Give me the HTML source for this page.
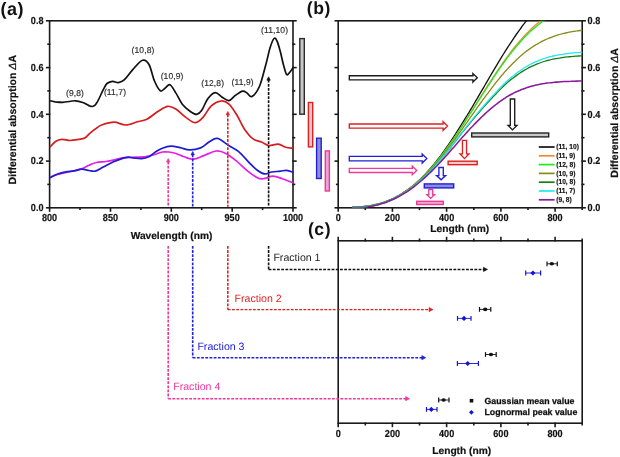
<!DOCTYPE html>
<html><head><meta charset="utf-8"><style>
html,body{margin:0;padding:0;background:#fff;width:620px;height:457px;overflow:hidden}
svg{display:block;will-change:transform}
text{text-rendering:geometricPrecision}
</style></head><body>
<svg width="620" height="457" viewBox="0 0 620 457">
<rect width="620" height="457" fill="#fff"/>
<g stroke="#1a1a1a" stroke-width="1.6" fill="none" stroke-linecap="square">
<rect x="49.6" y="20.8" width="243.4" height="187.0"/>
<line x1="46.7" y1="207.8" x2="49.6" y2="207.8"/>
<line x1="293.0" y1="207.8" x2="295.9" y2="207.8"/>
<line x1="48.1" y1="184.4" x2="49.6" y2="184.4"/>
<line x1="293.0" y1="184.4" x2="294.5" y2="184.4"/>
<line x1="46.7" y1="161.1" x2="49.6" y2="161.1"/>
<line x1="293.0" y1="161.1" x2="295.9" y2="161.1"/>
<line x1="48.1" y1="137.7" x2="49.6" y2="137.7"/>
<line x1="293.0" y1="137.7" x2="294.5" y2="137.7"/>
<line x1="46.7" y1="114.3" x2="49.6" y2="114.3"/>
<line x1="293.0" y1="114.3" x2="295.9" y2="114.3"/>
<line x1="48.1" y1="90.9" x2="49.6" y2="90.9"/>
<line x1="293.0" y1="90.9" x2="294.5" y2="90.9"/>
<line x1="46.7" y1="67.6" x2="49.6" y2="67.6"/>
<line x1="293.0" y1="67.6" x2="295.9" y2="67.6"/>
<line x1="48.1" y1="44.2" x2="49.6" y2="44.2"/>
<line x1="293.0" y1="44.2" x2="294.5" y2="44.2"/>
<line x1="46.7" y1="20.8" x2="49.6" y2="20.8"/>
<line x1="293.0" y1="20.8" x2="295.9" y2="20.8"/>
<line x1="49.6" y1="207.8" x2="49.6" y2="211.0"/>
<line x1="80.0" y1="207.8" x2="80.0" y2="209.3"/>
<line x1="110.5" y1="207.8" x2="110.5" y2="211.0"/>
<line x1="140.9" y1="207.8" x2="140.9" y2="209.3"/>
<line x1="171.3" y1="207.8" x2="171.3" y2="211.0"/>
<line x1="201.7" y1="207.8" x2="201.7" y2="209.3"/>
<line x1="232.2" y1="207.8" x2="232.2" y2="211.0"/>
<line x1="262.6" y1="207.8" x2="262.6" y2="209.3"/>
<line x1="293.0" y1="207.8" x2="293.0" y2="211.0"/>
</g>
<g stroke="#1a1a1a" stroke-width="1.6" fill="none" stroke-linecap="square">
<rect x="338.2" y="20.8" width="244.00000000000006" height="187.0"/>
<line x1="335.3" y1="207.8" x2="338.2" y2="207.8"/>
<line x1="582.2" y1="207.8" x2="585.1" y2="207.8"/>
<line x1="336.7" y1="184.4" x2="338.2" y2="184.4"/>
<line x1="582.2" y1="184.4" x2="583.7" y2="184.4"/>
<line x1="335.3" y1="161.1" x2="338.2" y2="161.1"/>
<line x1="582.2" y1="161.1" x2="585.1" y2="161.1"/>
<line x1="336.7" y1="137.7" x2="338.2" y2="137.7"/>
<line x1="582.2" y1="137.7" x2="583.7" y2="137.7"/>
<line x1="335.3" y1="114.3" x2="338.2" y2="114.3"/>
<line x1="582.2" y1="114.3" x2="585.1" y2="114.3"/>
<line x1="336.7" y1="90.9" x2="338.2" y2="90.9"/>
<line x1="582.2" y1="90.9" x2="583.7" y2="90.9"/>
<line x1="335.3" y1="67.6" x2="338.2" y2="67.6"/>
<line x1="582.2" y1="67.6" x2="585.1" y2="67.6"/>
<line x1="336.7" y1="44.2" x2="338.2" y2="44.2"/>
<line x1="582.2" y1="44.2" x2="583.7" y2="44.2"/>
<line x1="335.3" y1="20.8" x2="338.2" y2="20.8"/>
<line x1="582.2" y1="20.8" x2="585.1" y2="20.8"/>
<line x1="338.2" y1="207.8" x2="338.2" y2="211.0"/>
<line x1="365.3" y1="207.8" x2="365.3" y2="209.3"/>
<line x1="392.4" y1="207.8" x2="392.4" y2="211.0"/>
<line x1="419.5" y1="207.8" x2="419.5" y2="209.3"/>
<line x1="446.6" y1="207.8" x2="446.6" y2="211.0"/>
<line x1="473.8" y1="207.8" x2="473.8" y2="209.3"/>
<line x1="500.9" y1="207.8" x2="500.9" y2="211.0"/>
<line x1="528.0" y1="207.8" x2="528.0" y2="209.3"/>
<line x1="555.1" y1="207.8" x2="555.1" y2="211.0"/>
<line x1="582.2" y1="207.8" x2="582.2" y2="209.3"/>
</g>
<g stroke="#1a1a1a" stroke-width="1.6" fill="none" stroke-linecap="square">
<rect x="338.2" y="240.8" width="244.00000000000006" height="182.39999999999998"/>
<line x1="338.2" y1="423.2" x2="338.2" y2="426.4"/>
<line x1="338.2" y1="237.60000000000002" x2="338.2" y2="240.8"/>
<line x1="365.3" y1="423.2" x2="365.3" y2="424.7"/>
<line x1="365.3" y1="239.3" x2="365.3" y2="240.8"/>
<line x1="392.4" y1="423.2" x2="392.4" y2="426.4"/>
<line x1="392.4" y1="237.60000000000002" x2="392.4" y2="240.8"/>
<line x1="419.5" y1="423.2" x2="419.5" y2="424.7"/>
<line x1="419.5" y1="239.3" x2="419.5" y2="240.8"/>
<line x1="446.6" y1="423.2" x2="446.6" y2="426.4"/>
<line x1="446.6" y1="237.60000000000002" x2="446.6" y2="240.8"/>
<line x1="473.8" y1="423.2" x2="473.8" y2="424.7"/>
<line x1="473.8" y1="239.3" x2="473.8" y2="240.8"/>
<line x1="500.9" y1="423.2" x2="500.9" y2="426.4"/>
<line x1="500.9" y1="237.60000000000002" x2="500.9" y2="240.8"/>
<line x1="528.0" y1="423.2" x2="528.0" y2="424.7"/>
<line x1="528.0" y1="239.3" x2="528.0" y2="240.8"/>
<line x1="555.1" y1="423.2" x2="555.1" y2="426.4"/>
<line x1="555.1" y1="237.60000000000002" x2="555.1" y2="240.8"/>
<line x1="582.2" y1="423.2" x2="582.2" y2="424.7"/>
<line x1="582.2" y1="239.3" x2="582.2" y2="240.8"/>
</g>
<text transform="translate(43.50,211.00) scale(0.9,1)" text-anchor="end" style="font-family:'Liberation Sans', sans-serif;font-weight:bold;font-size:10.1px;fill:#111;stroke:#111;stroke-width:0.2px" >0.0</text>
<text transform="translate(587.60,211.00) scale(0.9,1)" text-anchor="start" style="font-family:'Liberation Sans', sans-serif;font-weight:bold;font-size:10.1px;fill:#111;stroke:#111;stroke-width:0.2px" >0.0</text>
<text transform="translate(43.50,164.25) scale(0.9,1)" text-anchor="end" style="font-family:'Liberation Sans', sans-serif;font-weight:bold;font-size:10.1px;fill:#111;stroke:#111;stroke-width:0.2px" >0.2</text>
<text transform="translate(587.60,164.25) scale(0.9,1)" text-anchor="start" style="font-family:'Liberation Sans', sans-serif;font-weight:bold;font-size:10.1px;fill:#111;stroke:#111;stroke-width:0.2px" >0.2</text>
<text transform="translate(43.50,117.50) scale(0.9,1)" text-anchor="end" style="font-family:'Liberation Sans', sans-serif;font-weight:bold;font-size:10.1px;fill:#111;stroke:#111;stroke-width:0.2px" >0.4</text>
<text transform="translate(587.60,117.50) scale(0.9,1)" text-anchor="start" style="font-family:'Liberation Sans', sans-serif;font-weight:bold;font-size:10.1px;fill:#111;stroke:#111;stroke-width:0.2px" >0.4</text>
<text transform="translate(43.50,70.75) scale(0.9,1)" text-anchor="end" style="font-family:'Liberation Sans', sans-serif;font-weight:bold;font-size:10.1px;fill:#111;stroke:#111;stroke-width:0.2px" >0.6</text>
<text transform="translate(587.60,70.75) scale(0.9,1)" text-anchor="start" style="font-family:'Liberation Sans', sans-serif;font-weight:bold;font-size:10.1px;fill:#111;stroke:#111;stroke-width:0.2px" >0.6</text>
<text transform="translate(43.50,24.00) scale(0.9,1)" text-anchor="end" style="font-family:'Liberation Sans', sans-serif;font-weight:bold;font-size:10.1px;fill:#111;stroke:#111;stroke-width:0.2px" >0.8</text>
<text transform="translate(587.60,24.00) scale(0.9,1)" text-anchor="start" style="font-family:'Liberation Sans', sans-serif;font-weight:bold;font-size:10.1px;fill:#111;stroke:#111;stroke-width:0.2px" >0.8</text>
<text transform="translate(49.60,221.40) scale(0.9,1)" text-anchor="middle" style="font-family:'Liberation Sans', sans-serif;font-weight:bold;font-size:10.1px;fill:#111;stroke:#111;stroke-width:0.2px" >800</text>
<text transform="translate(110.45,221.40) scale(0.9,1)" text-anchor="middle" style="font-family:'Liberation Sans', sans-serif;font-weight:bold;font-size:10.1px;fill:#111;stroke:#111;stroke-width:0.2px" >850</text>
<text transform="translate(171.30,221.40) scale(0.9,1)" text-anchor="middle" style="font-family:'Liberation Sans', sans-serif;font-weight:bold;font-size:10.1px;fill:#111;stroke:#111;stroke-width:0.2px" >900</text>
<text transform="translate(232.15,221.40) scale(0.9,1)" text-anchor="middle" style="font-family:'Liberation Sans', sans-serif;font-weight:bold;font-size:10.1px;fill:#111;stroke:#111;stroke-width:0.2px" >950</text>
<text transform="translate(293.00,221.40) scale(0.9,1)" text-anchor="middle" style="font-family:'Liberation Sans', sans-serif;font-weight:bold;font-size:10.1px;fill:#111;stroke:#111;stroke-width:0.2px" >1000</text>
<text transform="translate(338.20,221.30) scale(0.9,1)" text-anchor="middle" style="font-family:'Liberation Sans', sans-serif;font-weight:bold;font-size:10.1px;fill:#111;stroke:#111;stroke-width:0.2px" >0</text>
<text transform="translate(338.20,436.90) scale(0.9,1)" text-anchor="middle" style="font-family:'Liberation Sans', sans-serif;font-weight:bold;font-size:10.1px;fill:#111;stroke:#111;stroke-width:0.2px" >0</text>
<text transform="translate(392.42,221.30) scale(0.9,1)" text-anchor="middle" style="font-family:'Liberation Sans', sans-serif;font-weight:bold;font-size:10.1px;fill:#111;stroke:#111;stroke-width:0.2px" >200</text>
<text transform="translate(392.42,436.90) scale(0.9,1)" text-anchor="middle" style="font-family:'Liberation Sans', sans-serif;font-weight:bold;font-size:10.1px;fill:#111;stroke:#111;stroke-width:0.2px" >200</text>
<text transform="translate(446.64,221.30) scale(0.9,1)" text-anchor="middle" style="font-family:'Liberation Sans', sans-serif;font-weight:bold;font-size:10.1px;fill:#111;stroke:#111;stroke-width:0.2px" >400</text>
<text transform="translate(446.64,436.90) scale(0.9,1)" text-anchor="middle" style="font-family:'Liberation Sans', sans-serif;font-weight:bold;font-size:10.1px;fill:#111;stroke:#111;stroke-width:0.2px" >400</text>
<text transform="translate(500.87,221.30) scale(0.9,1)" text-anchor="middle" style="font-family:'Liberation Sans', sans-serif;font-weight:bold;font-size:10.1px;fill:#111;stroke:#111;stroke-width:0.2px" >600</text>
<text transform="translate(500.87,436.90) scale(0.9,1)" text-anchor="middle" style="font-family:'Liberation Sans', sans-serif;font-weight:bold;font-size:10.1px;fill:#111;stroke:#111;stroke-width:0.2px" >600</text>
<text transform="translate(555.09,221.30) scale(0.9,1)" text-anchor="middle" style="font-family:'Liberation Sans', sans-serif;font-weight:bold;font-size:10.1px;fill:#111;stroke:#111;stroke-width:0.2px" >800</text>
<text transform="translate(555.09,436.90) scale(0.9,1)" text-anchor="middle" style="font-family:'Liberation Sans', sans-serif;font-weight:bold;font-size:10.1px;fill:#111;stroke:#111;stroke-width:0.2px" >800</text>
<text x="171.5" y="238.6" text-anchor="middle" style="font-family:'Liberation Sans', sans-serif;font-weight:bold;font-size:10.2px;fill:#111;stroke:#111;stroke-width:0.2px" >Wavelength (nm)</text>
<text x="459.8" y="231.6" text-anchor="middle" style="font-family:'Liberation Sans', sans-serif;font-weight:bold;font-size:10.2px;fill:#111;stroke:#111;stroke-width:0.2px" >Length (nm)</text>
<text x="461.7" y="453.6" text-anchor="middle" style="font-family:'Liberation Sans', sans-serif;font-weight:bold;font-size:10.2px;fill:#111;stroke:#111;stroke-width:0.2px" >Length (nm)</text>
<text transform="translate(15.8,119.8) rotate(-90)" text-anchor="middle" style="font-family:'Liberation Sans', sans-serif;font-weight:bold;font-size:10.5px;fill:#111;stroke:#111;stroke-width:0.2px">Differential absorption <tspan style="font-style:italic;font-weight:normal">&#916;</tspan>A</text>
<text transform="translate(618.3,112.9) rotate(-90)" text-anchor="middle" style="font-family:'Liberation Sans', sans-serif;font-weight:bold;font-size:10.5px;fill:#111;stroke:#111;stroke-width:0.2px">Differential absorption <tspan style="font-style:italic;font-weight:normal">&#916;</tspan>A</text>
<text x="0.5" y="15.0" text-anchor="start" style="font-family:'Liberation Sans', sans-serif;font-weight:bold;font-size:18px;fill:#111;letter-spacing:0.5px" >(a)</text>
<text x="306.8" y="14.3" text-anchor="start" style="font-family:'Liberation Sans', sans-serif;font-weight:bold;font-size:17.6px;fill:#111;letter-spacing:0.5px" >(b)</text>
<text x="308.0" y="234.6" text-anchor="start" style="font-family:'Liberation Sans', sans-serif;font-weight:bold;font-size:17.6px;fill:#111;letter-spacing:0.5px" >(c)</text>
<path d="M50.0,177.2 C51.3,176.8 54.2,175.4 57.6,174.5 C61.0,173.6 66.2,172.4 70.2,171.5 C74.2,170.6 78.6,169.9 81.7,168.8 C84.8,167.8 86.5,166.2 89.0,165.2 C91.5,164.1 93.6,163.1 96.4,162.5 C99.2,161.9 102.8,161.9 105.8,161.5 C108.8,161.1 111.4,160.4 114.2,159.8 C117.0,159.2 119.5,158.3 122.6,157.9 C125.7,157.5 129.2,157.5 133.0,157.3 C136.8,157.1 142.1,157.0 145.6,156.6 C149.1,156.2 151.2,155.5 154.0,154.7 C156.8,153.9 160.0,152.4 162.4,152.0 C164.8,151.6 166.6,151.8 168.7,152.0 C170.8,152.2 172.5,152.5 175.0,153.3 C177.5,154.1 180.8,155.7 183.9,156.7 C187.0,157.7 190.0,159.4 193.3,159.2 C196.6,159.0 200.0,157.0 203.8,155.6 C207.7,154.2 212.7,151.3 216.4,151.0 C220.1,150.7 222.5,151.8 225.8,153.5 C229.1,155.2 232.8,158.1 236.3,160.9 C239.8,163.7 243.3,167.5 246.8,170.3 C250.3,173.1 254.5,176.3 257.3,177.7 C260.1,179.1 261.0,178.9 263.6,178.7 C266.2,178.4 269.9,176.2 273.0,176.2 C276.1,176.2 279.0,177.6 282.4,178.7 C285.8,179.8 291.4,182.2 293.2,182.9" fill="none" stroke="#e61ee6" stroke-width="1.7" stroke-linejoin="round"/>
<path d="M50.0,177.8 C51.3,177.2 54.9,175.0 57.6,174.0 C60.3,173.0 63.2,172.4 66.0,171.9 C68.8,171.4 71.8,171.4 74.4,170.9 C77.0,170.4 79.3,169.3 81.7,169.2 C84.1,169.1 86.7,170.2 89.0,170.5 C91.3,170.8 92.8,171.7 95.3,171.1 C97.8,170.5 100.5,168.3 103.7,166.7 C106.9,165.1 110.4,163.1 114.2,161.5 C118.0,159.9 123.7,157.9 126.8,157.3 C129.9,156.7 130.6,157.7 133.0,157.9 C135.4,158.1 138.9,158.9 141.5,158.7 C144.1,158.5 146.4,158.0 148.8,156.8 C151.2,155.6 153.8,153.0 156.1,151.6 C158.4,150.2 159.9,149.1 162.4,148.2 C164.9,147.3 168.1,146.3 171.0,146.2 C173.9,146.1 176.9,147.0 180.0,147.6 C183.1,148.2 186.1,149.8 189.5,149.9 C192.9,150.0 197.3,149.2 200.6,147.9 C203.8,146.6 206.2,143.6 209.0,142.0 C211.8,140.4 214.2,137.9 217.4,138.4 C220.6,138.9 224.4,142.8 227.9,145.0 C231.4,147.2 234.9,148.5 238.4,151.4 C241.9,154.3 245.8,159.2 248.9,162.4 C252.1,165.6 254.7,168.4 257.3,170.3 C259.9,172.2 262.2,173.6 264.6,173.9 C267.0,174.2 269.3,172.4 271.9,172.0 C274.5,171.6 277.9,171.5 280.3,171.2 C282.8,170.9 284.5,170.1 286.6,170.3 C288.8,170.5 292.1,172.1 293.2,172.4" fill="none" stroke="#1c1cd0" stroke-width="1.7" stroke-linejoin="round"/>
<path d="M50.0,147.2 C50.9,146.2 53.5,142.8 55.5,141.5 C57.5,140.2 59.3,139.6 61.8,139.4 C64.2,139.2 67.4,140.5 70.2,140.5 C73.0,140.5 76.1,139.8 78.5,139.4 C80.9,139.0 82.9,139.1 84.8,138.0 C86.7,136.9 88.3,134.6 90.1,133.1 C91.8,131.6 93.4,130.3 95.3,129.0 C97.2,127.7 98.4,126.1 101.6,125.0 C104.8,123.9 110.2,122.2 114.2,122.2 C118.2,122.2 121.8,125.1 125.7,125.0 C129.6,124.9 133.8,122.8 137.3,121.8 C140.8,120.8 143.2,121.0 146.7,119.3 C150.2,117.5 154.7,113.5 158.2,111.3 C161.7,109.1 164.8,106.7 167.7,106.3 C170.6,105.9 172.8,107.2 175.8,109.0 C178.8,110.8 182.3,114.8 185.5,117.1 C188.7,119.4 192.2,122.7 195.2,122.7 C198.1,122.7 200.5,119.9 203.2,117.1 C205.9,114.3 208.3,108.5 211.3,105.8 C214.3,103.1 218.1,101.3 221.0,101.0 C223.9,100.7 226.3,101.8 229.0,104.2 C231.7,106.6 234.5,111.3 237.1,115.5 C239.7,119.7 242.0,125.5 244.7,129.4 C247.4,133.3 250.3,136.8 253.1,138.9 C255.9,141.0 258.9,140.9 261.5,142.0 C264.1,143.1 266.0,145.2 268.8,145.6 C271.6,145.9 275.4,143.8 278.2,144.1 C281.0,144.4 283.1,146.6 285.6,147.3 C288.1,148.0 291.9,148.1 293.2,148.3" fill="none" stroke="#d61c1c" stroke-width="1.7" stroke-linejoin="round"/>
<path d="M50.0,100.8 C50.8,101.0 52.9,101.5 55.0,101.8 C57.1,102.0 60.5,102.3 62.8,102.3 C65.1,102.2 66.9,101.8 69.0,101.5 C71.1,101.2 73.1,100.6 75.4,100.8 C77.7,101.0 80.9,101.9 82.7,102.5 C84.5,103.1 85.3,103.7 86.5,104.3 C87.7,104.9 88.8,105.6 89.8,106.0 C90.8,106.4 91.5,106.6 92.3,106.5 C93.1,106.4 93.9,106.2 94.8,105.4 C95.7,104.6 96.5,103.2 97.5,101.6 C98.5,99.9 99.5,97.7 100.5,95.5 C101.5,93.3 102.7,90.6 103.8,88.6 C104.9,86.6 105.5,84.7 107.0,83.5 C108.5,82.3 110.6,81.5 112.5,81.3 C114.4,81.1 116.5,82.9 118.5,82.6 C120.5,82.3 122.1,81.8 124.5,79.6 C126.9,77.4 130.0,72.6 133.0,69.4 C136.0,66.2 139.8,61.1 142.5,60.3 C145.2,59.5 147.0,61.0 149.0,64.5 C151.0,68.0 152.6,76.6 154.5,81.0 C156.4,85.4 158.6,89.6 160.3,90.8 C162.1,92.0 163.4,89.2 165.0,88.2 C166.6,87.2 168.2,84.0 170.0,84.8 C171.8,85.6 173.8,89.7 175.8,92.9 C177.9,96.1 179.9,101.1 182.3,104.2 C184.7,107.3 187.9,109.8 190.3,111.5 C192.7,113.2 194.9,114.6 196.8,114.4 C198.7,114.2 199.7,113.2 201.6,110.6 C203.5,107.9 205.7,101.5 208.0,98.5 C210.3,95.5 213.0,92.9 215.3,92.6 C217.6,92.3 219.5,95.6 221.8,96.9 C224.1,98.2 226.7,100.9 229.0,100.6 C231.3,100.3 233.2,96.9 235.5,95.3 C237.8,93.7 240.7,91.5 242.6,91.1 C244.5,90.7 245.4,92.1 247.0,93.0 C248.6,93.9 249.9,97.6 252.0,96.5 C254.1,95.4 257.1,91.7 259.4,86.5 C261.7,81.3 263.8,71.9 265.6,65.5 C267.4,59.1 268.6,52.5 270.0,48.0 C271.4,43.5 272.8,39.7 274.0,38.5 C275.2,37.3 275.9,38.8 277.0,41.0 C278.1,43.2 279.2,47.5 280.3,51.5 C281.4,55.5 282.4,61.2 283.5,65.0 C284.6,68.8 285.5,73.3 286.6,74.5 C287.7,75.7 288.9,73.2 290.0,72.0 C291.1,70.8 292.7,68.0 293.2,67.2" fill="none" stroke="#111" stroke-width="1.7" stroke-linejoin="round"/>
<text x="75.0" y="96.4" text-anchor="middle" style="font-family:'Liberation Sans', sans-serif;font-size:8.5px;fill:#2a2a2a;stroke:#2a2a2a;stroke-width:0.15px;letter-spacing:0.1px" >(9,8)</text>
<text x="115.0" y="95.0" text-anchor="middle" style="font-family:'Liberation Sans', sans-serif;font-size:8.5px;fill:#2a2a2a;stroke:#2a2a2a;stroke-width:0.15px;letter-spacing:0.1px" >(11,7)</text>
<text x="143.0" y="53.4" text-anchor="middle" style="font-family:'Liberation Sans', sans-serif;font-size:8.5px;fill:#2a2a2a;stroke:#2a2a2a;stroke-width:0.15px;letter-spacing:0.1px" >(10,8)</text>
<text x="172.1" y="79.0" text-anchor="middle" style="font-family:'Liberation Sans', sans-serif;font-size:8.5px;fill:#2a2a2a;stroke:#2a2a2a;stroke-width:0.15px;letter-spacing:0.1px" >(10,9)</text>
<text x="212.7" y="86.3" text-anchor="middle" style="font-family:'Liberation Sans', sans-serif;font-size:8.5px;fill:#2a2a2a;stroke:#2a2a2a;stroke-width:0.15px;letter-spacing:0.1px" >(12,8)</text>
<text x="242.6" y="84.8" text-anchor="middle" style="font-family:'Liberation Sans', sans-serif;font-size:8.5px;fill:#2a2a2a;stroke:#2a2a2a;stroke-width:0.15px;letter-spacing:0.1px" >(11,9)</text>
<text x="274.6" y="32.8" text-anchor="middle" style="font-family:'Liberation Sans', sans-serif;font-size:8.5px;fill:#2a2a2a;stroke:#2a2a2a;stroke-width:0.15px;letter-spacing:0.1px" >(11,10)</text>
<line x1="268.6" y1="79.8" x2="268.6" y2="206.8" stroke="#111" stroke-width="1.6" stroke-dasharray="2.8,1.3"/>
<path d="M266.90000000000003,80.2 L268.6,76.8 L270.3,80.2 Z" fill="#111" stroke="#111" stroke-width="0.7" stroke-linejoin="round"/>
<line x1="268.6" y1="246.0" x2="268.6" y2="269.4" stroke="#111" stroke-width="1.6" stroke-dasharray="2.8,1.3"/>
<line x1="268.6" y1="269.4" x2="484.0" y2="269.4" stroke="#111" stroke-width="1.45" stroke-dasharray="2.8,1.4"/>
<path d="M483.5,267.29999999999995 L487.5,269.4 L483.5,271.5 Z" fill="#111" stroke="#111" stroke-width="0.6"/>
<text x="273.4" y="260.6" style="font-family:'Liberation Sans', sans-serif;font-size:10.6px;fill:#1e1e1e">Fraction 1</text>
<line x1="227.8" y1="114.5" x2="227.8" y2="206.8" stroke="#e02222" stroke-width="1.6" stroke-dasharray="2.8,1.3"/>
<path d="M226.10000000000002,114.9 L227.8,111.5 L229.5,114.9 Z" fill="#e02222" stroke="#e02222" stroke-width="0.7" stroke-linejoin="round"/>
<line x1="227.8" y1="246.0" x2="227.8" y2="309.6" stroke="#e02222" stroke-width="1.6" stroke-dasharray="2.8,1.3"/>
<line x1="227.8" y1="309.6" x2="429.5" y2="309.6" stroke="#e02222" stroke-width="1.45" stroke-dasharray="2.8,1.4"/>
<path d="M429.0,307.5 L433.0,309.6 L429.0,311.70000000000005 Z" fill="#e02222" stroke="#e02222" stroke-width="0.6"/>
<text x="234.5" y="301.8" style="font-family:'Liberation Sans', sans-serif;font-size:10.6px;fill:#e02222">Fraction 2</text>
<line x1="192.7" y1="154.5" x2="192.7" y2="206.8" stroke="#2222d8" stroke-width="1.6" stroke-dasharray="2.8,1.3"/>
<path d="M191.0,154.9 L192.7,151.5 L194.39999999999998,154.9 Z" fill="#2222d8" stroke="#2222d8" stroke-width="0.7" stroke-linejoin="round"/>
<line x1="192.7" y1="246.0" x2="192.7" y2="357.7" stroke="#2222d8" stroke-width="1.6" stroke-dasharray="2.8,1.3"/>
<line x1="192.7" y1="357.7" x2="422.3" y2="357.7" stroke="#2222d8" stroke-width="1.45" stroke-dasharray="2.8,1.4"/>
<path d="M421.8,355.59999999999997 L425.8,357.7 L421.8,359.8 Z" fill="#2222d8" stroke="#2222d8" stroke-width="0.6"/>
<text x="197.4" y="349.6" style="font-family:'Liberation Sans', sans-serif;font-size:10.6px;fill:#2222d8">Fraction 3</text>
<line x1="168.2" y1="161.6" x2="168.2" y2="206.8" stroke="#f0389a" stroke-width="1.6" stroke-dasharray="2.8,1.3"/>
<path d="M166.5,162.0 L168.2,158.6 L169.89999999999998,162.0 Z" fill="#f0389a" stroke="#f0389a" stroke-width="0.7" stroke-linejoin="round"/>
<line x1="168.2" y1="246.0" x2="168.2" y2="398.7" stroke="#f0389a" stroke-width="1.6" stroke-dasharray="2.8,1.3"/>
<line x1="168.2" y1="398.7" x2="406.1" y2="398.7" stroke="#f0389a" stroke-width="1.45" stroke-dasharray="2.8,1.4"/>
<path d="M405.6,396.59999999999997 L409.6,398.7 L405.6,400.8 Z" fill="#f0389a" stroke="#f0389a" stroke-width="0.6"/>
<text x="173.2" y="390.3" style="font-family:'Liberation Sans', sans-serif;font-size:10.6px;fill:#f0389a">Fraction 4</text>
<rect x="299.80" y="38.60" width="4.50" height="75.60" fill="#c8c8c8" stroke="#2a2a2a" stroke-width="1.4"/>
<rect x="308.40" y="102.50" width="4.30" height="44.40" fill="#e8c8c8" stroke="#e02020" stroke-width="1.4"/>
<rect x="316.60" y="138.20" width="4.60" height="40.30" fill="#9090d0" stroke="#2020d8" stroke-width="1.4"/>
<rect x="325.30" y="150.90" width="4.10" height="40.10" fill="#e8a4d4" stroke="#f0389a" stroke-width="1.4"/>
<defs><clipPath id="cb"><rect x="338.2" y="20.8" width="244" height="186.7"/></clipPath></defs>
<g clip-path="url(#cb)" fill="none" stroke-width="1.5">
<path d="M352.0,207.4 C352.5,207.4 354.0,207.4 355.0,207.3 C356.0,207.3 357.0,207.2 358.0,207.1 C359.0,207.0 360.0,206.9 361.0,206.8 C362.0,206.7 363.0,206.5 364.0,206.4 C365.0,206.3 366.0,206.2 367.0,206.0 C368.0,205.9 369.0,205.8 370.0,205.6 C371.0,205.4 372.0,205.3 373.0,205.1 C374.0,204.9 375.0,204.7 376.0,204.4 C377.0,204.2 378.0,203.9 379.0,203.7 C380.0,203.4 381.0,203.1 382.0,202.8 C383.0,202.5 384.0,202.1 385.0,201.8 C386.0,201.4 387.0,201.0 388.0,200.6 C389.0,200.2 390.0,199.8 391.0,199.4 C392.0,198.9 393.0,198.4 394.0,198.0 C395.0,197.5 396.0,197.0 397.0,196.4 C398.0,195.9 399.0,195.3 400.0,194.7 C401.0,194.1 402.0,193.5 403.0,192.9 C404.0,192.2 405.0,191.6 406.0,190.9 C407.0,190.2 408.0,189.5 409.0,188.7 C410.0,188.0 411.0,187.2 412.0,186.4 C413.0,185.6 414.0,184.7 415.0,183.9 C416.0,183.0 417.0,182.1 418.0,181.2 C419.0,180.3 420.0,179.4 421.0,178.4 C422.0,177.4 423.0,176.4 424.0,175.4 C425.0,174.4 426.0,173.3 427.0,172.2 C428.0,171.2 429.0,170.0 430.0,168.9 C431.0,167.8 432.0,166.6 433.0,165.4 C434.0,164.2 435.0,162.9 436.0,161.7 C437.0,160.4 438.0,159.1 439.0,157.8 C440.0,156.5 441.0,155.2 442.0,153.8 C443.0,152.4 444.0,151.1 445.0,149.6 C446.0,148.2 447.0,146.8 448.0,145.4 C449.0,143.9 450.0,142.4 451.0,140.9 C452.0,139.4 453.0,137.9 454.0,136.4 C455.0,134.8 456.0,133.3 457.0,131.7 C458.0,130.1 459.0,128.5 460.0,126.9 C461.0,125.3 462.0,123.7 463.0,122.1 C464.0,120.5 465.0,118.9 466.0,117.2 C467.0,115.6 468.0,113.9 469.0,112.3 C470.0,110.6 471.0,108.9 472.0,107.3 C473.0,105.6 474.0,103.9 475.0,102.2 C476.0,100.5 477.0,98.8 478.0,97.1 C479.0,95.4 480.0,93.7 481.0,91.9 C482.0,90.2 483.0,88.5 484.0,86.8 C485.0,85.1 486.0,83.3 487.0,81.6 C488.0,79.9 489.0,78.2 490.0,76.5 C491.0,74.8 492.0,73.1 493.0,71.4 C494.0,69.7 495.0,68.0 496.0,66.3 C497.0,64.6 498.0,63.0 499.0,61.3 C500.0,59.7 501.0,58.0 502.0,56.4 C503.0,54.8 504.0,53.2 505.0,51.6 C506.0,50.0 507.0,48.4 508.0,46.8 C509.0,45.3 510.0,43.8 511.0,42.3 C512.0,40.8 513.0,39.3 514.0,37.8 C515.0,36.3 516.0,34.9 517.0,33.5 C518.0,32.1 519.0,30.7 520.0,29.3 C521.0,27.9 522.0,26.6 523.0,25.2 C524.0,23.9 525.0,22.6 526.0,21.4 C527.0,20.1 528.0,18.9 529.0,17.7 C530.0,16.5 531.0,15.3 532.0,14.1 C533.0,13.0 534.0,11.9 535.0,10.8 C536.0,9.7 537.0,8.6 538.0,7.6 C539.0,6.5 540.0,5.5 541.0,4.6 C542.0,3.6 543.0,2.6 544.0,1.7 C545.0,0.8 546.0,-0.1 547.0,-1.0 C548.0,-1.9 549.0,-2.7 550.0,-3.5 C551.0,-4.4 552.0,-5.2 553.0,-5.9 C554.0,-6.7 555.0,-7.4 556.0,-8.1 C557.0,-8.8 558.0,-9.5 559.0,-10.2 C560.0,-10.8 561.0,-11.5 562.0,-12.1 C563.0,-12.7 564.0,-13.3 565.0,-13.9 C566.0,-14.4 567.0,-15.0 568.0,-15.5 C569.0,-16.0 570.0,-16.5 571.0,-17.0 C572.0,-17.4 573.0,-17.9 574.0,-18.3 C575.0,-18.8 576.0,-19.2 577.0,-19.6 C578.0,-20.0 579.0,-20.3 580.0,-20.7 C581.0,-21.0 582.5,-21.5 583.0,-21.7" stroke="#111" stroke-width="1.3"/>
<path d="M352.0,207.4 C352.5,207.4 354.0,207.4 355.0,207.3 C356.0,207.3 357.0,207.3 358.0,207.2 C359.0,207.1 360.0,207.0 361.0,206.9 C362.0,206.8 363.0,206.7 364.0,206.6 C365.0,206.5 366.0,206.4 367.0,206.2 C368.0,206.1 369.0,206.0 370.0,205.8 C371.0,205.7 372.0,205.5 373.0,205.3 C374.0,205.1 375.0,204.9 376.0,204.6 C377.0,204.4 378.0,204.1 379.0,203.9 C380.0,203.6 381.0,203.3 382.0,203.0 C383.0,202.7 384.0,202.3 385.0,202.0 C386.0,201.6 387.0,201.2 388.0,200.8 C389.0,200.4 390.0,200.0 391.0,199.6 C392.0,199.1 393.0,198.7 394.0,198.2 C395.0,197.7 396.0,197.2 397.0,196.7 C398.0,196.1 399.0,195.6 400.0,195.0 C401.0,194.4 402.0,193.8 403.0,193.1 C404.0,192.5 405.0,191.9 406.0,191.2 C407.0,190.5 408.0,189.8 409.0,189.0 C410.0,188.3 411.0,187.5 412.0,186.7 C413.0,185.9 414.0,185.1 415.0,184.3 C416.0,183.4 417.0,182.5 418.0,181.6 C419.0,180.7 420.0,179.8 421.0,178.9 C422.0,177.9 423.0,176.9 424.0,175.9 C425.0,174.9 426.0,173.9 427.0,172.8 C428.0,171.8 429.0,170.7 430.0,169.6 C431.0,168.5 432.0,167.3 433.0,166.1 C434.0,165.0 435.0,163.8 436.0,162.5 C437.0,161.3 438.0,160.1 439.0,158.8 C440.0,157.5 441.0,156.2 442.0,154.9 C443.0,153.6 444.0,152.2 445.0,150.9 C446.0,149.5 447.0,148.1 448.0,146.7 C449.0,145.3 450.0,143.9 451.0,142.4 C452.0,141.0 453.0,139.5 454.0,138.1 C455.0,136.6 456.0,135.1 457.0,133.6 C458.0,132.1 459.0,130.6 460.0,129.1 C461.0,127.5 462.0,126.0 463.0,124.5 C464.0,122.9 465.0,121.4 466.0,119.8 C467.0,118.3 468.0,116.7 469.0,115.2 C470.0,113.6 471.0,112.0 472.0,110.5 C473.0,108.9 474.0,107.3 475.0,105.7 C476.0,104.2 477.0,102.6 478.0,101.0 C479.0,99.4 480.0,97.8 481.0,96.2 C482.0,94.7 483.0,93.1 484.0,91.5 C485.0,89.9 486.0,88.4 487.0,86.8 C488.0,85.2 489.0,83.7 490.0,82.1 C491.0,80.6 492.0,79.1 493.0,77.5 C494.0,76.0 495.0,74.5 496.0,73.0 C497.0,71.5 498.0,70.0 499.0,68.5 C500.0,67.1 501.0,65.6 502.0,64.2 C503.0,62.7 504.0,61.3 505.0,59.9 C506.0,58.5 507.0,57.2 508.0,55.8 C509.0,54.5 510.0,53.1 511.0,51.8 C512.0,50.5 513.0,49.3 514.0,48.0 C515.0,46.8 516.0,45.5 517.0,44.3 C518.0,43.1 519.0,41.9 520.0,40.8 C521.0,39.6 522.0,38.5 523.0,37.4 C524.0,36.3 525.0,35.2 526.0,34.2 C527.0,33.1 528.0,32.1 529.0,31.1 C530.0,30.2 531.0,29.2 532.0,28.3 C533.0,27.3 534.0,26.4 535.0,25.6 C536.0,24.7 537.0,23.8 538.0,23.0 C539.0,22.2 540.0,21.4 541.0,20.6 C542.0,19.9 543.0,19.1 544.0,18.4 C545.0,17.7 546.0,17.0 547.0,16.3 C548.0,15.6 549.0,15.0 550.0,14.4 C551.0,13.8 552.0,13.2 553.0,12.6 C554.0,12.0 555.0,11.5 556.0,11.0 C557.0,10.4 558.0,9.9 559.0,9.4 C560.0,9.0 561.0,8.5 562.0,8.1 C563.0,7.6 564.0,7.2 565.0,6.8 C566.0,6.4 567.0,6.0 568.0,5.7 C569.0,5.3 570.0,5.0 571.0,4.6 C572.0,4.3 573.0,4.0 574.0,3.7 C575.0,3.4 576.0,3.1 577.0,2.9 C578.0,2.6 579.0,2.3 580.0,2.1 C581.0,1.9 582.5,1.6 583.0,1.4" stroke="#f08a2a" stroke-width="1.3"/>
<path d="M352.0,207.4 C352.5,207.4 354.0,207.4 355.0,207.3 C356.0,207.3 357.0,207.3 358.0,207.2 C359.0,207.1 360.0,207.0 361.0,206.9 C362.0,206.8 363.0,206.7 364.0,206.6 C365.0,206.5 366.0,206.4 367.0,206.2 C368.0,206.1 369.0,206.0 370.0,205.8 C371.0,205.7 372.0,205.5 373.0,205.3 C374.0,205.1 375.0,204.9 376.0,204.6 C377.0,204.4 378.0,204.1 379.0,203.9 C380.0,203.6 381.0,203.3 382.0,203.0 C383.0,202.7 384.0,202.3 385.0,202.0 C386.0,201.6 387.0,201.2 388.0,200.9 C389.0,200.5 390.0,200.0 391.0,199.6 C392.0,199.1 393.0,198.7 394.0,198.2 C395.0,197.7 396.0,197.2 397.0,196.7 C398.0,196.1 399.0,195.6 400.0,195.0 C401.0,194.4 402.0,193.8 403.0,193.2 C404.0,192.5 405.0,191.9 406.0,191.2 C407.0,190.5 408.0,189.8 409.0,189.0 C410.0,188.3 411.0,187.5 412.0,186.7 C413.0,185.9 414.0,185.1 415.0,184.3 C416.0,183.4 417.0,182.6 418.0,181.7 C419.0,180.8 420.0,179.9 421.0,178.9 C422.0,178.0 423.0,177.0 424.0,176.0 C425.0,175.0 426.0,173.9 427.0,172.9 C428.0,171.8 429.0,170.7 430.0,169.6 C431.0,168.5 432.0,167.4 433.0,166.2 C434.0,165.0 435.0,163.8 436.0,162.6 C437.0,161.4 438.0,160.1 439.0,158.9 C440.0,157.6 441.0,156.3 442.0,155.0 C443.0,153.7 444.0,152.4 445.0,151.0 C446.0,149.7 447.0,148.3 448.0,146.9 C449.0,145.5 450.0,144.1 451.0,142.6 C452.0,141.2 453.0,139.7 454.0,138.3 C455.0,136.8 456.0,135.3 457.0,133.8 C458.0,132.3 459.0,130.8 460.0,129.3 C461.0,127.8 462.0,126.3 463.0,124.8 C464.0,123.2 465.0,121.7 466.0,120.2 C467.0,118.6 468.0,117.1 469.0,115.5 C470.0,114.0 471.0,112.4 472.0,110.9 C473.0,109.3 474.0,107.8 475.0,106.2 C476.0,104.6 477.0,103.1 478.0,101.5 C479.0,99.9 480.0,98.4 481.0,96.8 C482.0,95.2 483.0,93.7 484.0,92.1 C485.0,90.6 486.0,89.0 487.0,87.5 C488.0,85.9 489.0,84.4 490.0,82.9 C491.0,81.4 492.0,79.8 493.0,78.3 C494.0,76.8 495.0,75.3 496.0,73.9 C497.0,72.4 498.0,70.9 499.0,69.5 C500.0,68.0 501.0,66.6 502.0,65.2 C503.0,63.8 504.0,62.4 505.0,61.0 C506.0,59.6 507.0,58.3 508.0,56.9 C509.0,55.6 510.0,54.3 511.0,53.1 C512.0,51.8 513.0,50.5 514.0,49.3 C515.0,48.1 516.0,46.9 517.0,45.7 C518.0,44.5 519.0,43.3 520.0,42.2 C521.0,41.1 522.0,40.0 523.0,38.9 C524.0,37.8 525.0,36.8 526.0,35.8 C527.0,34.8 528.0,33.8 529.0,32.8 C530.0,31.9 531.0,30.9 532.0,30.0 C533.0,29.1 534.0,28.2 535.0,27.4 C536.0,26.5 537.0,25.7 538.0,24.9 C539.0,24.1 540.0,23.4 541.0,22.6 C542.0,21.9 543.0,21.1 544.0,20.5 C545.0,19.8 546.0,19.1 547.0,18.4 C548.0,17.8 549.0,17.2 550.0,16.6 C551.0,16.0 552.0,15.4 553.0,14.9 C554.0,14.3 555.0,13.8 556.0,13.3 C557.0,12.8 558.0,12.3 559.0,11.8 C560.0,11.4 561.0,10.9 562.0,10.5 C563.0,10.1 564.0,9.7 565.0,9.3 C566.0,8.9 567.0,8.6 568.0,8.2 C569.0,7.9 570.0,7.5 571.0,7.2 C572.0,6.9 573.0,6.6 574.0,6.3 C575.0,6.1 576.0,5.8 577.0,5.5 C578.0,5.3 579.0,5.1 580.0,4.8 C581.0,4.6 582.5,4.3 583.0,4.2" stroke="#22e822" stroke-width="1.3"/>
<path d="M352.0,207.4 C352.5,207.4 354.0,207.4 355.0,207.4 C356.0,207.3 357.0,207.3 358.0,207.3 C359.0,207.3 360.0,207.2 361.0,207.1 C362.0,207.0 363.0,206.9 364.0,206.8 C365.0,206.7 366.0,206.6 367.0,206.5 C368.0,206.3 369.0,206.2 370.0,206.0 C371.0,205.9 372.0,205.7 373.0,205.5 C374.0,205.3 375.0,205.1 376.0,204.8 C377.0,204.6 378.0,204.3 379.0,204.1 C380.0,203.8 381.0,203.5 382.0,203.2 C383.0,202.9 384.0,202.6 385.0,202.2 C386.0,201.8 387.0,201.5 388.0,201.1 C389.0,200.7 390.0,200.3 391.0,199.8 C392.0,199.4 393.0,198.9 394.0,198.4 C395.0,198.0 396.0,197.5 397.0,196.9 C398.0,196.4 399.0,195.8 400.0,195.3 C401.0,194.7 402.0,194.1 403.0,193.5 C404.0,192.8 405.0,192.2 406.0,191.5 C407.0,190.8 408.0,190.1 409.0,189.4 C410.0,188.7 411.0,187.9 412.0,187.2 C413.0,186.4 414.0,185.6 415.0,184.7 C416.0,183.9 417.0,183.1 418.0,182.2 C419.0,181.3 420.0,180.4 421.0,179.5 C422.0,178.6 423.0,177.6 424.0,176.6 C425.0,175.7 426.0,174.7 427.0,173.6 C428.0,172.6 429.0,171.6 430.0,170.5 C431.0,169.4 432.0,168.3 433.0,167.2 C434.0,166.1 435.0,164.9 436.0,163.7 C437.0,162.6 438.0,161.4 439.0,160.1 C440.0,158.9 441.0,157.7 442.0,156.4 C443.0,155.2 444.0,153.9 445.0,152.6 C446.0,151.3 447.0,150.0 448.0,148.7 C449.0,147.4 450.0,146.0 451.0,144.7 C452.0,143.3 453.0,141.9 454.0,140.6 C455.0,139.2 456.0,137.8 457.0,136.4 C458.0,135.0 459.0,133.6 460.0,132.2 C461.0,130.8 462.0,129.3 463.0,127.9 C464.0,126.5 465.0,125.1 466.0,123.7 C467.0,122.3 468.0,120.8 469.0,119.4 C470.0,118.0 471.0,116.6 472.0,115.2 C473.0,113.8 474.0,112.3 475.0,110.9 C476.0,109.5 477.0,108.1 478.0,106.7 C479.0,105.3 480.0,103.9 481.0,102.5 C482.0,101.1 483.0,99.8 484.0,98.4 C485.0,97.0 486.0,95.7 487.0,94.3 C488.0,93.0 489.0,91.6 490.0,90.3 C491.0,89.0 492.0,87.7 493.0,86.4 C494.0,85.1 495.0,83.8 496.0,82.5 C497.0,81.3 498.0,80.0 499.0,78.8 C500.0,77.6 501.0,76.4 502.0,75.2 C503.0,74.0 504.0,72.9 505.0,71.7 C506.0,70.6 507.0,69.5 508.0,68.4 C509.0,67.3 510.0,66.3 511.0,65.2 C512.0,64.2 513.0,63.2 514.0,62.2 C515.0,61.2 516.0,60.2 517.0,59.3 C518.0,58.4 519.0,57.5 520.0,56.6 C521.0,55.7 522.0,54.9 523.0,54.0 C524.0,53.2 525.0,52.4 526.0,51.6 C527.0,50.8 528.0,50.1 529.0,49.4 C530.0,48.7 531.0,48.0 532.0,47.3 C533.0,46.6 534.0,46.0 535.0,45.4 C536.0,44.8 537.0,44.2 538.0,43.6 C539.0,43.0 540.0,42.5 541.0,41.9 C542.0,41.4 543.0,40.9 544.0,40.4 C545.0,39.9 546.0,39.5 547.0,39.0 C548.0,38.6 549.0,38.2 550.0,37.8 C551.0,37.4 552.0,37.0 553.0,36.6 C554.0,36.3 555.0,35.9 556.0,35.6 C557.0,35.3 558.0,35.0 559.0,34.7 C560.0,34.4 561.0,34.1 562.0,33.8 C563.0,33.6 564.0,33.3 565.0,33.1 C566.0,32.9 567.0,32.6 568.0,32.4 C569.0,32.2 570.0,32.0 571.0,31.8 C572.0,31.7 573.0,31.5 574.0,31.3 C575.0,31.2 576.0,31.0 577.0,30.9 C578.0,30.7 579.0,30.6 580.0,30.5 C581.0,30.4 582.5,30.2 583.0,30.1" stroke="#8a8a1a" stroke-width="1.3"/>
<path d="M352.0,207.4 C352.5,207.4 354.0,207.4 355.0,207.4 C356.0,207.4 357.0,207.4 358.0,207.3 C359.0,207.3 360.0,207.2 361.0,207.2 C362.0,207.1 363.0,207.0 364.0,206.9 C365.0,206.8 366.0,206.7 367.0,206.6 C368.0,206.4 369.0,206.3 370.0,206.1 C371.0,206.0 372.0,205.8 373.0,205.6 C374.0,205.4 375.0,205.2 376.0,204.9 C377.0,204.7 378.0,204.5 379.0,204.2 C380.0,203.9 381.0,203.6 382.0,203.3 C383.0,203.0 384.0,202.7 385.0,202.3 C386.0,202.0 387.0,201.6 388.0,201.2 C389.0,200.8 390.0,200.4 391.0,200.0 C392.0,199.5 393.0,199.1 394.0,198.6 C395.0,198.1 396.0,197.6 397.0,197.1 C398.0,196.6 399.0,196.0 400.0,195.5 C401.0,194.9 402.0,194.3 403.0,193.7 C404.0,193.1 405.0,192.4 406.0,191.8 C407.0,191.1 408.0,190.4 409.0,189.7 C410.0,189.0 411.0,188.3 412.0,187.5 C413.0,186.8 414.0,186.0 415.0,185.2 C416.0,184.4 417.0,183.5 418.0,182.7 C419.0,181.8 420.0,181.0 421.0,180.1 C422.0,179.2 423.0,178.3 424.0,177.3 C425.0,176.4 426.0,175.4 427.0,174.4 C428.0,173.5 429.0,172.5 430.0,171.4 C431.0,170.4 432.0,169.3 433.0,168.3 C434.0,167.2 435.0,166.1 436.0,165.0 C437.0,163.9 438.0,162.7 439.0,161.6 C440.0,160.4 441.0,159.3 442.0,158.1 C443.0,156.9 444.0,155.7 445.0,154.5 C446.0,153.3 447.0,152.0 448.0,150.8 C449.0,149.6 450.0,148.3 451.0,147.0 C452.0,145.7 453.0,144.5 454.0,143.2 C455.0,141.9 456.0,140.6 457.0,139.3 C458.0,138.0 459.0,136.7 460.0,135.5 C461.0,134.2 462.0,132.9 463.0,131.7 C464.0,130.4 465.0,129.2 466.0,127.9 C467.0,126.7 468.0,125.5 469.0,124.3 C470.0,123.0 471.0,121.8 472.0,120.6 C473.0,119.4 474.0,118.2 475.0,117.0 C476.0,115.8 477.0,114.7 478.0,113.5 C479.0,112.3 480.0,111.2 481.0,110.0 C482.0,108.9 483.0,107.7 484.0,106.6 C485.0,105.5 486.0,104.4 487.0,103.3 C488.0,102.2 489.0,101.1 490.0,100.0 C491.0,99.0 492.0,97.9 493.0,96.8 C494.0,95.8 495.0,94.7 496.0,93.7 C497.0,92.7 498.0,91.6 499.0,90.6 C500.0,89.6 501.0,88.6 502.0,87.6 C503.0,86.7 504.0,85.7 505.0,84.8 C506.0,83.9 507.0,83.0 508.0,82.1 C509.0,81.3 510.0,80.4 511.0,79.6 C512.0,78.8 513.0,78.0 514.0,77.3 C515.0,76.5 516.0,75.8 517.0,75.1 C518.0,74.4 519.0,73.7 520.0,73.0 C521.0,72.3 522.0,71.7 523.0,71.1 C524.0,70.5 525.0,69.9 526.0,69.3 C527.0,68.8 528.0,68.2 529.0,67.7 C530.0,67.2 531.0,66.7 532.0,66.2 C533.0,65.8 534.0,65.3 535.0,64.9 C536.0,64.4 537.0,64.0 538.0,63.6 C539.0,63.3 540.0,62.9 541.0,62.5 C542.0,62.2 543.0,61.8 544.0,61.5 C545.0,61.2 546.0,60.9 547.0,60.6 C548.0,60.4 549.0,60.1 550.0,59.9 C551.0,59.6 552.0,59.4 553.0,59.2 C554.0,59.0 555.0,58.8 556.0,58.6 C557.0,58.4 558.0,58.2 559.0,58.1 C560.0,57.9 561.0,57.8 562.0,57.6 C563.0,57.5 564.0,57.3 565.0,57.2 C566.0,57.1 567.0,57.0 568.0,56.9 C569.0,56.8 570.0,56.7 571.0,56.6 C572.0,56.5 573.0,56.4 574.0,56.3 C575.0,56.2 576.0,56.2 577.0,56.1 C578.0,56.0 579.0,56.0 580.0,55.9 C581.0,55.9 582.5,55.8 583.0,55.8" stroke="#1a7a1a" stroke-width="1.3"/>
<path d="M352.0,207.4 C352.5,207.4 354.0,207.4 355.0,207.4 C356.0,207.4 357.0,207.4 358.0,207.4 C359.0,207.4 360.0,207.3 361.0,207.2 C362.0,207.2 363.0,207.1 364.0,207.0 C365.0,206.9 366.0,206.8 367.0,206.7 C368.0,206.5 369.0,206.4 370.0,206.2 C371.0,206.1 372.0,205.9 373.0,205.7 C374.0,205.5 375.0,205.3 376.0,205.0 C377.0,204.8 378.0,204.6 379.0,204.3 C380.0,204.0 381.0,203.7 382.0,203.4 C383.0,203.1 384.0,202.8 385.0,202.4 C386.0,202.1 387.0,201.7 388.0,201.3 C389.0,200.9 390.0,200.5 391.0,200.1 C392.0,199.6 393.0,199.2 394.0,198.7 C395.0,198.2 396.0,197.7 397.0,197.2 C398.0,196.7 399.0,196.1 400.0,195.6 C401.0,195.0 402.0,194.4 403.0,193.8 C404.0,193.2 405.0,192.5 406.0,191.9 C407.0,191.2 408.0,190.5 409.0,189.8 C410.0,189.1 411.0,188.3 412.0,187.6 C413.0,186.8 414.0,186.0 415.0,185.2 C416.0,184.4 417.0,183.6 418.0,182.7 C419.0,181.9 420.0,181.0 421.0,180.1 C422.0,179.2 423.0,178.3 424.0,177.3 C425.0,176.4 426.0,175.4 427.0,174.4 C428.0,173.4 429.0,172.4 430.0,171.4 C431.0,170.4 432.0,169.3 433.0,168.2 C434.0,167.1 435.0,166.0 436.0,164.9 C437.0,163.8 438.0,162.6 439.0,161.5 C440.0,160.3 441.0,159.1 442.0,157.9 C443.0,156.8 444.0,155.5 445.0,154.3 C446.0,153.1 447.0,151.8 448.0,150.6 C449.0,149.3 450.0,148.0 451.0,146.7 C452.0,145.5 453.0,144.1 454.0,142.8 C455.0,141.5 456.0,140.2 457.0,138.9 C458.0,137.6 459.0,136.3 460.0,135.0 C461.0,133.7 462.0,132.4 463.0,131.1 C464.0,129.9 465.0,128.6 466.0,127.3 C467.0,126.1 468.0,124.8 469.0,123.6 C470.0,122.3 471.0,121.1 472.0,119.9 C473.0,118.6 474.0,117.4 475.0,116.2 C476.0,115.0 477.0,113.8 478.0,112.6 C479.0,111.4 480.0,110.2 481.0,109.0 C482.0,107.8 483.0,106.6 484.0,105.5 C485.0,104.3 486.0,103.2 487.0,102.1 C488.0,100.9 489.0,99.8 490.0,98.7 C491.0,97.6 492.0,96.5 493.0,95.4 C494.0,94.4 495.0,93.3 496.0,92.2 C497.0,91.1 498.0,90.1 499.0,89.0 C500.0,88.0 501.0,86.9 502.0,85.9 C503.0,84.9 504.0,84.0 505.0,83.0 C506.0,82.0 507.0,81.1 508.0,80.2 C509.0,79.3 510.0,78.4 511.0,77.6 C512.0,76.8 513.0,75.9 514.0,75.2 C515.0,74.4 516.0,73.6 517.0,72.8 C518.0,72.1 519.0,71.4 520.0,70.7 C521.0,70.0 522.0,69.3 523.0,68.7 C524.0,68.0 525.0,67.4 526.0,66.8 C527.0,66.2 528.0,65.7 529.0,65.1 C530.0,64.6 531.0,64.0 532.0,63.5 C533.0,63.0 534.0,62.6 535.0,62.1 C536.0,61.6 537.0,61.2 538.0,60.8 C539.0,60.4 540.0,60.0 541.0,59.6 C542.0,59.2 543.0,58.9 544.0,58.5 C545.0,58.2 546.0,57.9 547.0,57.6 C548.0,57.3 549.0,57.0 550.0,56.7 C551.0,56.5 552.0,56.2 553.0,56.0 C554.0,55.8 555.0,55.6 556.0,55.4 C557.0,55.2 558.0,55.0 559.0,54.8 C560.0,54.6 561.0,54.4 562.0,54.3 C563.0,54.1 564.0,54.0 565.0,53.8 C566.0,53.7 567.0,53.6 568.0,53.5 C569.0,53.3 570.0,53.2 571.0,53.1 C572.0,53.0 573.0,52.9 574.0,52.8 C575.0,52.7 576.0,52.7 577.0,52.6 C578.0,52.5 579.0,52.4 580.0,52.4 C581.0,52.3 582.5,52.2 583.0,52.2" stroke="#22e8f0" stroke-width="1.3"/>
<path d="M352.0,207.4 C352.5,207.4 354.0,207.4 355.0,207.4 C356.0,207.4 357.0,207.5 358.0,207.5 C359.0,207.5 360.0,207.4 361.0,207.4 C362.0,207.3 363.0,207.3 364.0,207.2 C365.0,207.1 366.0,207.0 367.0,206.9 C368.0,206.7 369.0,206.6 370.0,206.4 C371.0,206.3 372.0,206.1 373.0,205.9 C374.0,205.7 375.0,205.5 376.0,205.3 C377.0,205.0 378.0,204.8 379.0,204.5 C380.0,204.2 381.0,203.9 382.0,203.6 C383.0,203.3 384.0,203.0 385.0,202.7 C386.0,202.3 387.0,202.0 388.0,201.6 C389.0,201.2 390.0,200.8 391.0,200.3 C392.0,199.9 393.0,199.5 394.0,199.0 C395.0,198.5 396.0,198.0 397.0,197.5 C398.0,197.0 399.0,196.5 400.0,195.9 C401.0,195.4 402.0,194.8 403.0,194.2 C404.0,193.6 405.0,193.0 406.0,192.3 C407.0,191.7 408.0,191.0 409.0,190.3 C410.0,189.6 411.0,188.9 412.0,188.2 C413.0,187.4 414.0,186.7 415.0,185.9 C416.0,185.1 417.0,184.3 418.0,183.5 C419.0,182.7 420.0,181.9 421.0,181.0 C422.0,180.2 423.0,179.3 424.0,178.4 C425.0,177.5 426.0,176.6 427.0,175.7 C428.0,174.7 429.0,173.8 430.0,172.8 C431.0,171.8 432.0,170.9 433.0,169.8 C434.0,168.8 435.0,167.8 436.0,166.8 C437.0,165.7 438.0,164.7 439.0,163.6 C440.0,162.5 441.0,161.5 442.0,160.4 C443.0,159.3 444.0,158.2 445.0,157.1 C446.0,156.0 447.0,154.9 448.0,153.7 C449.0,152.6 450.0,151.5 451.0,150.3 C452.0,149.2 453.0,148.0 454.0,146.9 C455.0,145.7 456.0,144.6 457.0,143.4 C458.0,142.3 459.0,141.1 460.0,140.0 C461.0,138.8 462.0,137.7 463.0,136.6 C464.0,135.5 465.0,134.3 466.0,133.2 C467.0,132.1 468.0,131.1 469.0,130.0 C470.0,128.9 471.0,127.8 472.0,126.8 C473.0,125.7 474.0,124.7 475.0,123.6 C476.0,122.6 477.0,121.6 478.0,120.6 C479.0,119.6 480.0,118.6 481.0,117.6 C482.0,116.7 483.0,115.7 484.0,114.8 C485.0,113.9 486.0,112.9 487.0,112.0 C488.0,111.2 489.0,110.3 490.0,109.4 C491.0,108.6 492.0,107.7 493.0,106.9 C494.0,106.1 495.0,105.3 496.0,104.5 C497.0,103.7 498.0,103.0 499.0,102.2 C500.0,101.5 501.0,100.8 502.0,100.1 C503.0,99.4 504.0,98.7 505.0,98.1 C506.0,97.4 507.0,96.8 508.0,96.2 C509.0,95.6 510.0,95.0 511.0,94.5 C512.0,94.0 513.0,93.4 514.0,92.9 C515.0,92.4 516.0,91.9 517.0,91.5 C518.0,91.0 519.0,90.6 520.0,90.2 C521.0,89.7 522.0,89.3 523.0,89.0 C524.0,88.6 525.0,88.2 526.0,87.9 C527.0,87.5 528.0,87.2 529.0,86.9 C530.0,86.6 531.0,86.4 532.0,86.1 C533.0,85.8 534.0,85.6 535.0,85.3 C536.0,85.1 537.0,84.9 538.0,84.7 C539.0,84.5 540.0,84.3 541.0,84.1 C542.0,83.9 543.0,83.7 544.0,83.6 C545.0,83.4 546.0,83.3 547.0,83.1 C548.0,83.0 549.0,82.9 550.0,82.8 C551.0,82.6 552.0,82.5 553.0,82.4 C554.0,82.3 555.0,82.2 556.0,82.1 C557.0,82.1 558.0,82.0 559.0,81.9 C560.0,81.8 561.0,81.8 562.0,81.7 C563.0,81.6 564.0,81.6 565.0,81.5 C566.0,81.5 567.0,81.4 568.0,81.4 C569.0,81.3 570.0,81.3 571.0,81.3 C572.0,81.2 573.0,81.2 574.0,81.2 C575.0,81.1 576.0,81.1 577.0,81.1 C578.0,81.1 579.0,81.0 580.0,81.0 C581.0,81.0 582.5,81.0 583.0,81.0" stroke="#8a1a9a" stroke-width="1.55"/>
</g>
<path d="M349.3,75.7 L472.90000000000003,75.7 L472.90000000000003,73.5 L477.3,77.8 L472.90000000000003,82.1 L472.90000000000003,79.89999999999999 L349.3,79.89999999999999 Z" fill="#fff" stroke="#1a1a1a" stroke-width="1.35" stroke-linejoin="miter"/>
<path d="M349.3,123.95 L443.1,123.95 L443.1,121.7 L447.5,126.0 L443.1,130.3 L443.1,128.05 L349.3,128.05 Z" fill="#fff" stroke="#e02020" stroke-width="1.35" stroke-linejoin="miter"/>
<path d="M349.3,156.35 L422.2,156.35 L422.2,154.1 L426.8,158.6 L422.2,163.1 L422.2,160.85 L349.3,160.85 Z" fill="#fff" stroke="#2020d8" stroke-width="1.35" stroke-linejoin="miter"/>
<path d="M349.3,168.3 L412.3,168.3 L412.3,166.1 L416.7,170.4 L412.3,174.70000000000002 L412.3,172.5 L349.3,172.5 Z" fill="#fff" stroke="#f0389a" stroke-width="1.35" stroke-linejoin="miter"/>
<path d="M510.3,99.0 L510.3,125.30000000000001 L508.0,125.30000000000001 L512.5,129.9 L517.0,125.30000000000001 L514.7,125.30000000000001 L514.7,99.0 Z" fill="#fff" stroke="#1a1a1a" stroke-width="1.35" stroke-linejoin="miter"/>
<path d="M462.45,140.4 L462.45,153.79999999999998 L460.0,153.79999999999998 L464.5,158.6 L469.0,153.79999999999998 L466.55,153.79999999999998 L466.55,140.4 Z" fill="#fff" stroke="#e02020" stroke-width="1.35" stroke-linejoin="miter"/>
<path d="M438.90000000000003,167.5 L438.90000000000003,175.60000000000002 L436.6,175.60000000000002 L441.1,179.8 L445.6,175.60000000000002 L443.3,175.60000000000002 L443.3,167.5 Z" fill="#fff" stroke="#2020d8" stroke-width="1.35" stroke-linejoin="miter"/>
<path d="M428.75,189.5 L428.75,194.70000000000002 L426.9,194.70000000000002 L430.7,198.4 L434.5,194.70000000000002 L432.65,194.70000000000002 L432.65,189.5 Z" fill="#fff" stroke="#f0389a" stroke-width="1.35" stroke-linejoin="miter"/>
<rect x="471.70" y="133.00" width="77.00" height="3.90" fill="#c8c8c8" stroke="#222" stroke-width="1.4"/>
<rect x="448.10" y="161.20" width="29.10" height="3.50" fill="#efcccc" stroke="#e02020" stroke-width="1.4"/>
<rect x="424.30" y="183.90" width="29.40" height="4.00" fill="#8c8cd8" stroke="#2020d8" stroke-width="1.4"/>
<rect x="416.70" y="201.30" width="26.60" height="3.20" fill="#eea8d0" stroke="#f0389a" stroke-width="1.4"/>
<line x1="538.8" y1="147.0" x2="554.6" y2="147.0" stroke="#111" stroke-width="1.7"/>
<text transform="translate(556.20,149.10) scale(0.93,1)" text-anchor="start" style="font-family:'Liberation Sans', sans-serif;font-weight:bold;font-size:7.2px;fill:#111;stroke:#111;stroke-width:0.15px" >(11, 10)</text>
<line x1="538.8" y1="155.8" x2="554.6" y2="155.8" stroke="#f08a2a" stroke-width="1.7"/>
<text transform="translate(556.20,157.90) scale(0.93,1)" text-anchor="start" style="font-family:'Liberation Sans', sans-serif;font-weight:bold;font-size:7.2px;fill:#111;stroke:#111;stroke-width:0.15px" >(11, 9)</text>
<line x1="538.8" y1="164.6" x2="554.6" y2="164.6" stroke="#22e822" stroke-width="1.7"/>
<text transform="translate(556.20,166.70) scale(0.93,1)" text-anchor="start" style="font-family:'Liberation Sans', sans-serif;font-weight:bold;font-size:7.2px;fill:#111;stroke:#111;stroke-width:0.15px" >(12, 8)</text>
<line x1="538.8" y1="173.4" x2="554.6" y2="173.4" stroke="#8a8a1a" stroke-width="1.7"/>
<text transform="translate(556.20,175.50) scale(0.93,1)" text-anchor="start" style="font-family:'Liberation Sans', sans-serif;font-weight:bold;font-size:7.2px;fill:#111;stroke:#111;stroke-width:0.15px" >(10, 9)</text>
<line x1="538.8" y1="182.2" x2="554.6" y2="182.2" stroke="#1a7a1a" stroke-width="1.7"/>
<text transform="translate(556.20,184.30) scale(0.93,1)" text-anchor="start" style="font-family:'Liberation Sans', sans-serif;font-weight:bold;font-size:7.2px;fill:#111;stroke:#111;stroke-width:0.15px" >(10, 8)</text>
<line x1="538.8" y1="191.0" x2="554.6" y2="191.0" stroke="#22e8f0" stroke-width="1.7"/>
<text transform="translate(556.20,193.10) scale(0.93,1)" text-anchor="start" style="font-family:'Liberation Sans', sans-serif;font-weight:bold;font-size:7.2px;fill:#111;stroke:#111;stroke-width:0.15px" >(11, 7)</text>
<line x1="538.8" y1="199.8" x2="554.6" y2="199.8" stroke="#8a1a9a" stroke-width="1.7"/>
<text transform="translate(556.20,201.90) scale(0.93,1)" text-anchor="start" style="font-family:'Liberation Sans', sans-serif;font-weight:bold;font-size:7.2px;fill:#111;stroke:#111;stroke-width:0.15px" >(9, 8)</text>
<g stroke="#111"><line x1="547.0" y1="263.8" x2="557.3" y2="263.8" stroke-width="0.9"/><line x1="547.0" y1="261.40000000000003" x2="547.0" y2="266.2" stroke-width="1.2"/><line x1="557.3" y1="261.40000000000003" x2="557.3" y2="266.2" stroke-width="1.2"/></g>
<ellipse cx="551.8" cy="263.8" rx="2.2" ry="1.8" fill="#111"/>
<g stroke="#111"><line x1="479.5" y1="309.4" x2="490.8" y2="309.4" stroke-width="0.9"/><line x1="479.5" y1="307.0" x2="479.5" y2="311.79999999999995" stroke-width="1.2"/><line x1="490.8" y1="307.0" x2="490.8" y2="311.79999999999995" stroke-width="1.2"/></g>
<ellipse cx="485.2" cy="309.4" rx="2.2" ry="1.8" fill="#111"/>
<g stroke="#111"><line x1="485.5" y1="354.5" x2="496.2" y2="354.5" stroke-width="0.9"/><line x1="485.5" y1="352.1" x2="485.5" y2="356.9" stroke-width="1.2"/><line x1="496.2" y1="352.1" x2="496.2" y2="356.9" stroke-width="1.2"/></g>
<ellipse cx="491.0" cy="354.5" rx="2.2" ry="1.8" fill="#111"/>
<g stroke="#111"><line x1="438.7" y1="400.0" x2="449.0" y2="400.0" stroke-width="0.9"/><line x1="438.7" y1="397.6" x2="438.7" y2="402.4" stroke-width="1.2"/><line x1="449.0" y1="397.6" x2="449.0" y2="402.4" stroke-width="1.2"/></g>
<ellipse cx="443.6" cy="400.0" rx="2.2" ry="1.8" fill="#111"/>
<g stroke="#1414d8"><line x1="525.7" y1="273.0" x2="540.6" y2="273.0" stroke-width="0.9"/><line x1="525.7" y1="270.6" x2="525.7" y2="275.4" stroke-width="1.2"/><line x1="540.6" y1="270.6" x2="540.6" y2="275.4" stroke-width="1.2"/></g>
<path d="M532.9,270.4 L535.5,273.0 L532.9,275.6 L530.3,273.0 Z" fill="#1414d8"/>
<g stroke="#1414d8"><line x1="457.5" y1="318.4" x2="471.0" y2="318.4" stroke-width="0.9"/><line x1="457.5" y1="316.0" x2="457.5" y2="320.79999999999995" stroke-width="1.2"/><line x1="471.0" y1="316.0" x2="471.0" y2="320.79999999999995" stroke-width="1.2"/></g>
<path d="M464.0,315.79999999999995 L466.6,318.4 L464.0,321.0 L461.4,318.4 Z" fill="#1414d8"/>
<g stroke="#1414d8"><line x1="457.4" y1="363.5" x2="478.4" y2="363.5" stroke-width="0.9"/><line x1="457.4" y1="361.1" x2="457.4" y2="365.9" stroke-width="1.2"/><line x1="478.4" y1="361.1" x2="478.4" y2="365.9" stroke-width="1.2"/></g>
<path d="M467.7,360.9 L470.3,363.5 L467.7,366.1 L465.09999999999997,363.5 Z" fill="#1414d8"/>
<g stroke="#1414d8"><line x1="426.5" y1="409.4" x2="437.0" y2="409.4" stroke-width="0.9"/><line x1="426.5" y1="407.0" x2="426.5" y2="411.79999999999995" stroke-width="1.2"/><line x1="437.0" y1="407.0" x2="437.0" y2="411.79999999999995" stroke-width="1.2"/></g>
<path d="M431.3,406.79999999999995 L433.90000000000003,409.4 L431.3,412.0 L428.7,409.4 Z" fill="#1414d8"/>
<rect x="469.7" y="398.9" width="3.6" height="3.6" fill="#111"/>
<path d="M471.4,409.90000000000003 L473.79999999999995,412.3 L471.4,414.7 L469.0,412.3 Z" fill="#1414d8"/>
<text x="484.5" y="403.5" text-anchor="start" style="font-family:'Liberation Sans', sans-serif;font-weight:bold;font-size:8.8px;fill:#111;stroke:#111;stroke-width:0.25px" >Gaussian mean value</text>
<text x="484.5" y="414.8" text-anchor="start" style="font-family:'Liberation Sans', sans-serif;font-weight:bold;font-size:8.8px;fill:#111;stroke:#111;stroke-width:0.25px" >Lognormal peak value</text>
</svg>
</body></html>
